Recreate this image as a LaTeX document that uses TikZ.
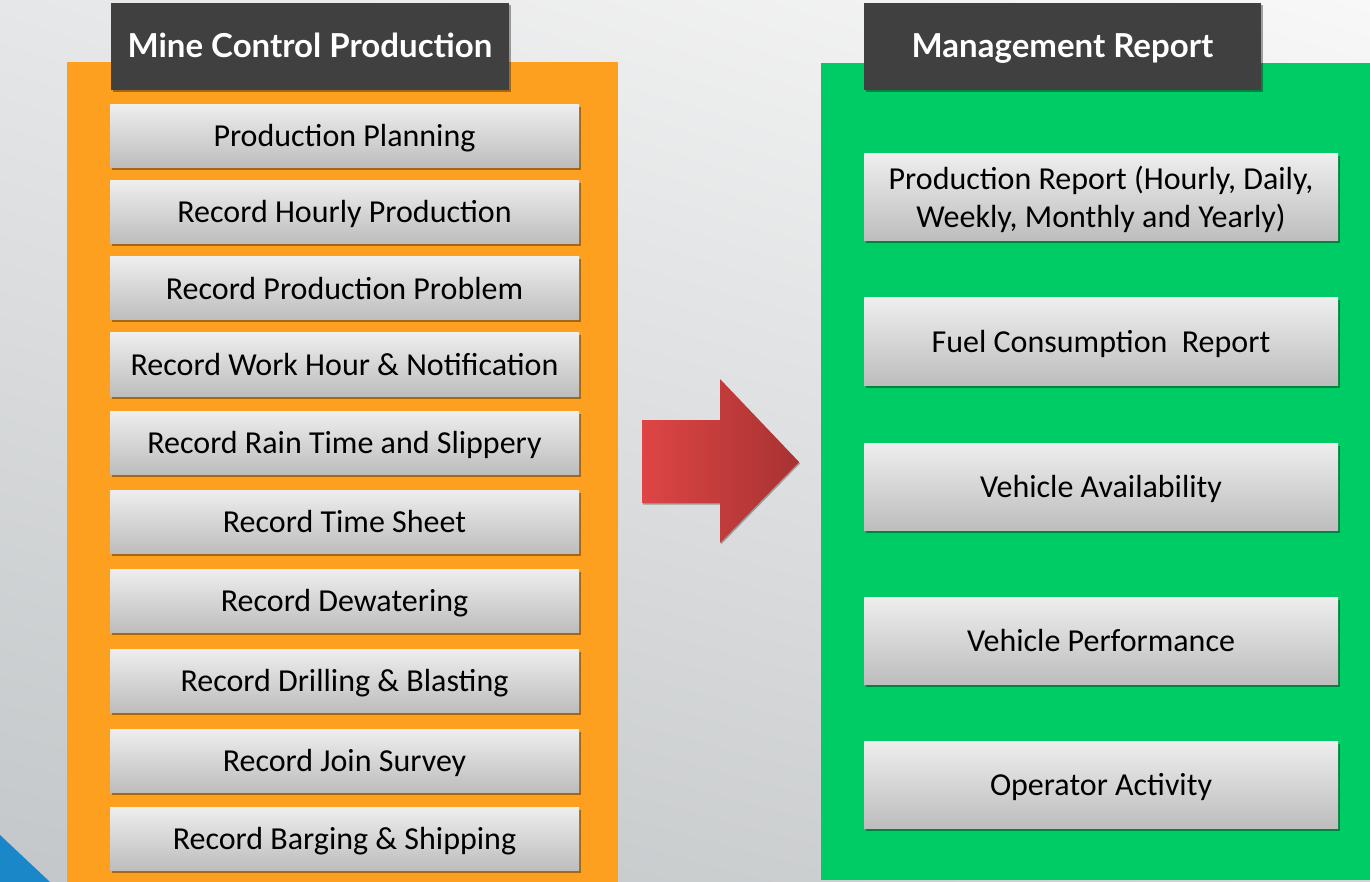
\documentclass[tikz,border=0pt]{standalone}
\usepackage{fontspec}
\setmainfont{Carlito}
\newfontfamily\headfont{Lato}
\usetikzlibrary{shadows,shadings}
\definecolor{bgA}{HTML}{E6E7E8}
\definecolor{bgB}{HTML}{F8F8F8}
\definecolor{bgC}{HTML}{C3C7C9}
\definecolor{bgD}{HTML}{D2D4D5}
\definecolor{orangeP}{HTML}{FD9F1F}
\definecolor{greenP}{HTML}{00CC66}
\definecolor{headG}{HTML}{404040}
\definecolor{boxTop}{HTML}{EEEEEE}
\definecolor{boxBot}{HTML}{BDBDBD}
\definecolor{arrL}{HTML}{DE4545}
\definecolor{arrR}{HTML}{A83232}
\definecolor{blueT}{HTML}{1A87C8}
\tikzset{
  itembox/.style={minimum width=469pt, minimum height=63pt, inner sep=0pt,
    text height=22pt, text depth=0pt,
    top color=boxTop, bottom color=boxBot, font=\fontsize{32}{38}\selectfont,
    drop shadow={shadow xshift=1.5pt, shadow yshift=-2.5pt, opacity=0.35, fill=black}},
  repbox/.style={itembox, minimum width=474pt, minimum height=87pt, align=center},
  tworow/.style={text height=, text depth=1pt},
  headbox/.style={fill=headG, text=white, inner sep=0pt, minimum height=87pt,
    text height=22pt, text depth=0pt,
    font=\headfont\bfseries\fontsize{33}{38}\selectfont,
    drop shadow={shadow xshift=1.5pt, shadow yshift=-2.5pt, opacity=0.35, fill=black}},
  panel/.style={inner sep=0pt, draw=none}
}
\begin{document}
\begin{tikzpicture}[x=1pt,y=-1pt]
\useasboundingbox (0,0) rectangle (1370,882);
% background
\shade[upper left=bgA, upper right=bgB, lower left=bgC, lower right=bgD] (0,0) rectangle (1370,882);
\fill[blueT] (0,835) -- (50,882) -- (0,882) -- cycle;
% panels
\node[panel, fill=orangeP, minimum width=551pt, minimum height=820pt] (lp) at (342.5,472) {};
\node[panel, fill=greenP, minimum width=549pt, minimum height=817pt] (rp) at (1095.5,471.5) {};
% headers
\node[headbox, minimum width=398pt] (lh) at (310,46.5) {Mine Control Production};
\node[headbox, minimum width=397pt] (rh) at (1062.5,46.5) {Management Report};
% left items
\node[itembox] (l1) at (344.5,136) {Production Planning};
\node[itembox] (l2) at (344.5,212) {Record Hourly Production};
\node[itembox] (l3) at (344.5,288.5) {Record Production Problem};
\node[itembox] (l4) at (344.5,364.5) {Record Work Hour \& Notification};
\node[itembox] (l5) at (344.5,442.5) {Record Rain Time and Slippery};
\node[itembox] (l6) at (344.5,521.5) {Record Time Sheet};
\node[itembox] (l7) at (344.5,600.5) {Record Dewatering};
\node[itembox] (l8) at (344.5,680.5) {Record Drilling \& Blasting};
\node[itembox] (l9) at (344.5,760.5) {Record Join Survey};
\node[itembox] (l10) at (344.5,838.5) {Record Barging \& Shipping};
% right items
\node[repbox, tworow] (r1) at (1101,197.5) {Production Report (Hourly, Daily,\\Weekly, Monthly and Yearly)};
\node[repbox] (r2) at (1101,341.5) {Fuel Consumption~ Report};
\node[repbox] (r3) at (1101,486.5) {Vehicle Availability};
\node[repbox] (r4) at (1101,640.5) {Vehicle Performance};
\node[repbox] (r5) at (1101,784.5) {Operator Activity};
% big arrow
\shade[left color=arrL, right color=arrR,
  drop shadow={shadow xshift=1pt, shadow yshift=-1.5pt, opacity=0.3, fill=black}]
  (642,420) -- (720,420) -- (720,379) -- (799,462) -- (720,543) -- (720,503) -- (642,503) -- cycle;
\end{tikzpicture}
\end{document}
